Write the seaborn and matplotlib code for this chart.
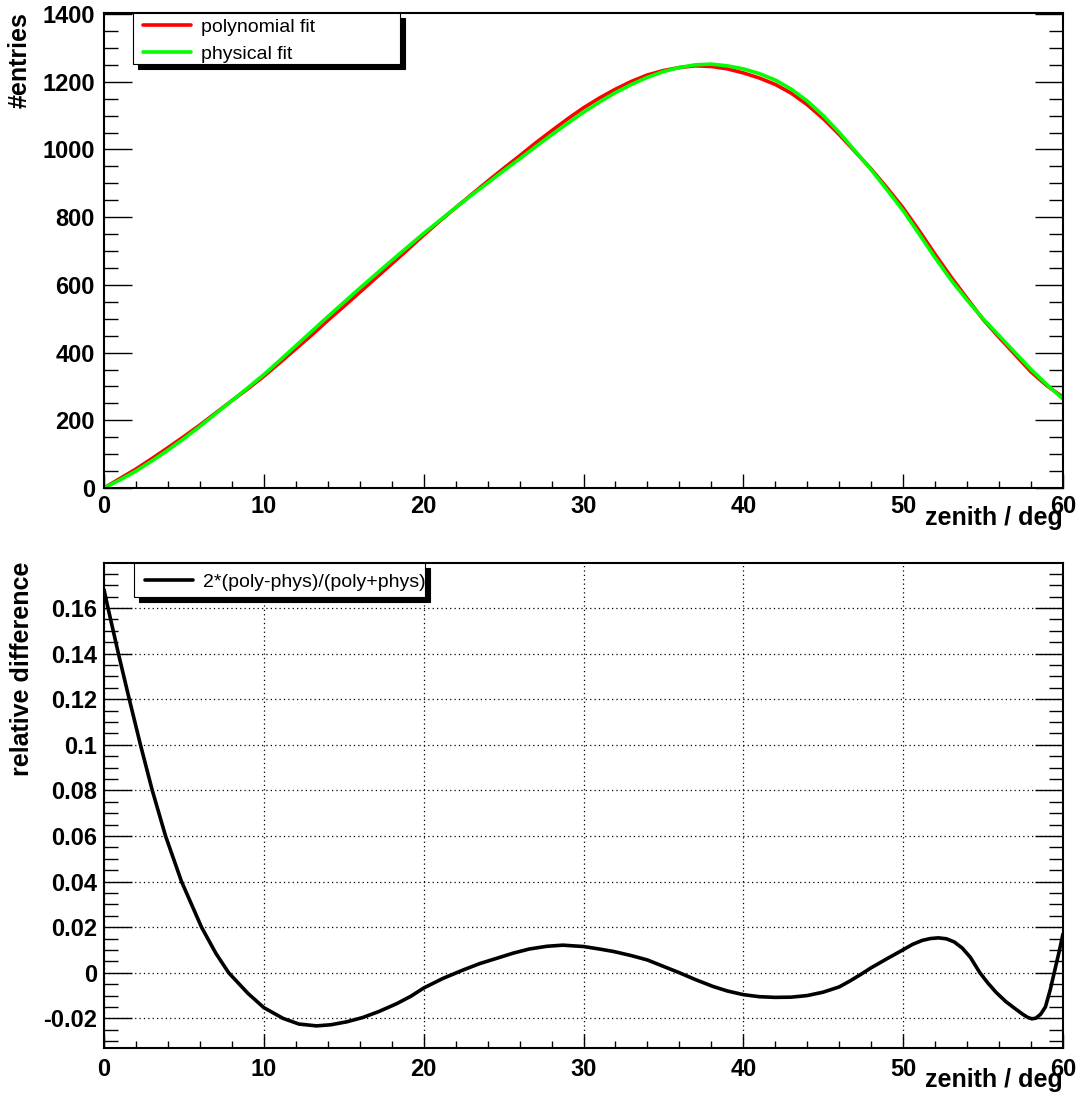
import matplotlib
matplotlib.use("Agg")
import matplotlib.pyplot as plt
from matplotlib.patches import Rectangle
from matplotlib.transforms import ScaledTranslation
from matplotlib.ticker import MultipleLocator, FuncFormatter
import seaborn as sns

# ---- data -------------------------------------------------------------
zenith_deg = list(range(0, 61))

physical_fit = [0, 24, 50, 80, 112, 146, 182, 220, 258, 296,
                335, 377, 420, 463, 506, 548, 590, 631, 672, 712,
                752, 790, 828, 865, 901, 937, 972, 1008, 1043, 1077,
                1110, 1140, 1168, 1192, 1213, 1230, 1242, 1250, 1252, 1247,
                1238, 1224, 1205, 1178, 1143, 1100, 1050, 995, 940, 880,
                819, 750, 680, 614, 555, 500, 450, 400, 350, 305, 263]

polynomial_fit = [0, 28, 56, 87, 119, 152, 186, 222, 258, 293,
                  330, 370, 411, 452, 495, 536, 578, 620, 662, 704,
                  747, 788, 828, 867, 906, 944, 981, 1019, 1055, 1090,
                  1123, 1152, 1178, 1201, 1220, 1233, 1242, 1247, 1245, 1238,
                  1226, 1211, 1192, 1166, 1132, 1091, 1044, 993, 942, 886,
                  827, 760, 690, 623, 560, 498, 445, 394, 343, 302, 268]

diff_zenith = [0, 0.25, 0.9, 1.58, 2.28, 3.02, 3.85, 4.85, 6.1, 7.0,
               7.8, 9.0, 10.0, 11.2, 12.2, 13.3, 14.2, 15.2, 16.2, 17.2,
               18.3, 19.2, 20.0, 21.2, 22.5, 23.5, 24.6, 25.6, 26.6, 27.7,
               28.7, 30.0, 31.0, 31.9, 33.0, 34.0, 35.0, 36.0, 37.0, 38.1,
               39.0, 40.0, 41.0, 42.0, 43.0, 44.0, 45.0, 46.0, 46.7, 47.4,
               48.0, 49.0, 50.0, 50.6, 51.2, 51.7, 52.2, 52.7, 53.2, 53.7,
               54.2, 54.8, 55.3, 55.8, 56.4, 56.9, 57.5, 57.8, 58.05, 58.3,
               58.6, 58.9, 59.2, 59.5, 59.75, 60.0]

relative_difference = [0.168, 0.160, 0.140, 0.120, 0.100, 0.080, 0.060, 0.040, 0.020, 0.0085,
                       0.000, -0.0090, -0.0153, -0.0200, -0.0225, -0.0233, -0.0228, -0.0215, -0.0196, -0.0170,
                       -0.0136, -0.0103, -0.0067, -0.0025, 0.0013, 0.0040, 0.0064, 0.0086, 0.0104, 0.0116,
                       0.0121, 0.0115, 0.0104, 0.0093, 0.0075, 0.0056, 0.0028, 0.0000, -0.0030, -0.0060,
                       -0.0080, -0.0096, -0.0105, -0.0108, -0.0107, -0.0100, -0.0085, -0.0062, -0.0035, -0.0005,
                       0.0022, 0.0062, 0.0101, 0.0125, 0.0142, 0.0150, 0.0153, 0.0149, 0.0135, 0.0108,
                       0.0068, 0.0000, -0.0045, -0.0085, -0.0125, -0.0152, -0.0183, -0.0196, -0.0202, -0.0199,
                       -0.0182, -0.0150, -0.0075, 0.0015, 0.0090, 0.0170]

# ---- style ------------------------------------------------------------
sns.set_style("white")
plt.rcParams["font.family"] = ["Liberation Sans", "DejaVu Sans"]
plt.rcParams["axes.unicode_minus"] = False
for key in ("text.color", "axes.labelcolor", "xtick.color", "ytick.color",
            "xtick.labelcolor", "ytick.labelcolor"):
    plt.rcParams[key] = "black"

W, H, DPI = 1079, 1095, 100
fig = plt.figure(figsize=(W / DPI, H / DPI), dpi=DPI)
fig.patch.set_facecolor("white")


def px_axes(left, top, right, bottom):
    return fig.add_axes([left / W, 1 - bottom / H, (right - left) / W, (bottom - top) / H])


ax_top = px_axes(104, 13, 1063, 488)
ax_bot = px_axes(104, 563, 1063, 1048)


def style_axes(ax, ymajor, yminor, xpad, ypad):
    ax.set_facecolor("white")
    for sp in ax.spines.values():
        sp.set_visible(True)
        sp.set_color("black")
        sp.set_linewidth(1.5)
    ax.xaxis.set_major_locator(MultipleLocator(10))
    ax.xaxis.set_minor_locator(MultipleLocator(2))
    ax.yaxis.set_major_locator(MultipleLocator(ymajor))
    ax.yaxis.set_minor_locator(MultipleLocator(yminor))
    ax.tick_params(axis="x", which="both", direction="in", bottom=True, top=False,
                   color="black", labelcolor="black", width=1.0, pad=xpad, labelsize=17)
    ax.tick_params(axis="x", which="major", length=10)
    ax.tick_params(axis="x", which="minor", length=5)
    ax.tick_params(axis="y", which="both", direction="in", left=True, right=True,
                   color="black", labelcolor="black", width=1.0, pad=ypad, labelsize=17)
    ax.tick_params(axis="y", which="major", length=20)
    ax.tick_params(axis="y", which="minor", length=10)
    for lab in ax.get_xticklabels() + ax.get_yticklabels():
        lab.set_fontweight("bold")
    ax.set_xlim(0, 60)
    ax.set_xlabel("")
    ax.set_ylabel("")


def boxed_legend(ax, handles, labels, box, anchor, spacing, dy_px=5, dx_px=5):
    """Legend with a plain black frame and a solid drop shadow."""
    x0, y0, x1, y1 = box
    shadow_tr = ax.transAxes + ScaledTranslation(dx_px / DPI, -dy_px / DPI, fig.dpi_scale_trans)
    ax.add_patch(Rectangle((x0, y0), x1 - x0, y1 - y0, transform=shadow_tr,
                           facecolor="black", edgecolor="black", lw=0.8,
                           zorder=6, clip_on=False))
    ax.add_patch(Rectangle((x0, y0), x1 - x0, y1 - y0, transform=ax.transAxes,
                           facecolor="white", edgecolor="black", lw=0.8,
                           zorder=7, clip_on=False))
    leg = ax.legend(handles, labels, loc="upper left", bbox_to_anchor=anchor,
                    bbox_transform=ax.transAxes, frameon=False, borderpad=0,
                    borderaxespad=0, handlelength=2.45, handletextpad=0.55,
                    labelspacing=spacing, prop={"size": 14, "weight": "normal"})
    leg.set_zorder(8)
    for t in leg.get_texts():
        t.set_color("black")
    return leg


# ---- top panel: fitted zenith distributions ---------------------------
sns.lineplot(x=zenith_deg, y=polynomial_fit, ax=ax_top, color="#ff0000",
             linewidth=2.6, sort=False, estimator=None, legend=False)
sns.lineplot(x=zenith_deg, y=physical_fit, ax=ax_top, color="#00ff00",
             linewidth=2.6, sort=False, estimator=None, legend=False)
ax_top.set_ylim(0, 1403)
style_axes(ax_top, 200, 50, xpad=5, ypad=6.5)
ax_top.annotate("zenith / deg", xy=(1, 0), xycoords="axes fraction",
                xytext=(0, -37 * 0.72), textcoords="offset points",
                ha="right", va="baseline", fontsize=18, fontweight="bold")
fig.text(20 / W, 1 - 12 / H, "#entries", rotation=90, ha="center", va="top",
         fontsize=18, fontweight="bold")

top_lines = ax_top.get_lines()
boxed_legend(ax_top, top_lines[:2], ["polynomial fit", "physical fit"],
             box=((133 - 104) / 959, 1 - (64 - 13) / 475, (400 - 104) / 959, 1.0),
             anchor=((143 - 104) / 959, 1 - 5.0 / 475), spacing=0.48)

# ---- bottom panel: relative difference ---------------------------------
ax_bot.grid(True, which="major", color="black", linestyle=(0, (1, 2.5)), linewidth=0.9)
ax_bot.set_axisbelow(True)
sns.lineplot(x=diff_zenith, y=relative_difference, ax=ax_bot, color="black",
             linewidth=2.6, sort=False, estimator=None, legend=False)
ax_bot.set_ylim(-0.033, 0.1797)
style_axes(ax_bot, 0.02, 0.005, xpad=7, ypad=5)
ax_bot.yaxis.set_major_formatter(FuncFormatter(lambda v, p: "%g" % round(v, 4)))
for lab in ax_bot.get_yticklabels():
    lab.set_fontweight("bold")
ax_bot.annotate("zenith / deg", xy=(1, 0), xycoords="axes fraction",
                xytext=(0, -39 * 0.72), textcoords="offset points",
                ha="right", va="baseline", fontsize=18, fontweight="bold")
fig.text(22 / W, 1 - 562 / H, "relative difference", rotation=90, ha="center",
         va="top", fontsize=18, fontweight="bold")

bot_lines = ax_bot.get_lines()
diff_line = [l for l in bot_lines if len(l.get_xdata()) == len(diff_zenith)][0]
boxed_legend(ax_bot, [diff_line], ["2*(poly-phys)/(poly+phys)"],
             box=((134 - 104) / 959, 1 - 34 / 485, (425 - 104) / 959, 1.0),
             anchor=((145 - 104) / 959, 1 - 10.5 / 485), spacing=0.3)

fig.savefig("out.png", dpi=DPI, facecolor="white")
